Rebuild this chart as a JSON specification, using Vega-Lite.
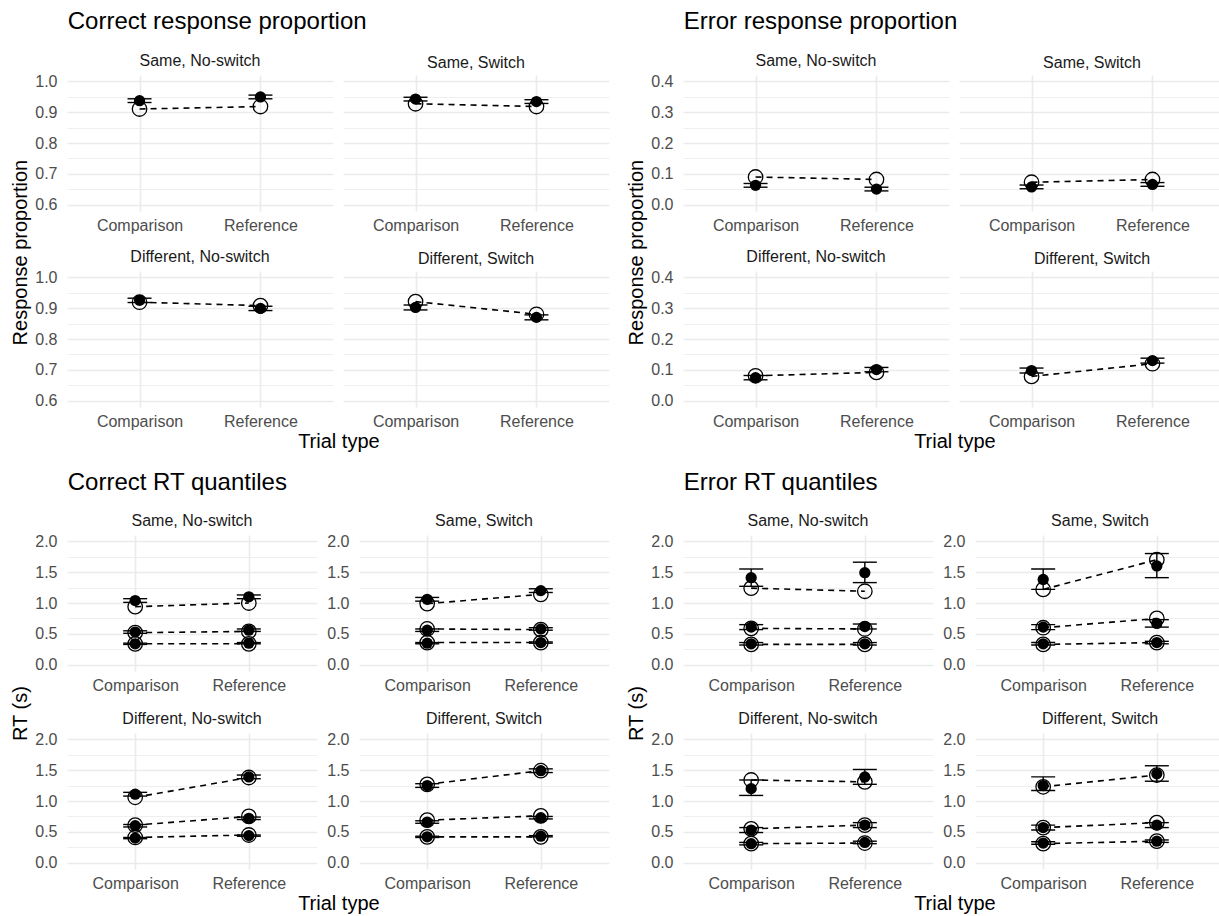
{
"$schema":"https://vega.github.io/schema/vega-lite/v6.json",
"padding":{"left":10,"top":10,"right":0,"bottom":0},
"background":"white",
"config":{"font":"Liberation Sans","view":{"stroke":null},
"axis":{"domain":false,"ticks":false,"gridColor":"#EBEBEB","labelColor":"#4D4D4D","labelFontSize":16,"labelFont":"Liberation Sans"},
"title":{"fontWeight":"normal","color":"black","font":"Liberation Sans"}},
"datasets":{"d":[
{"g":"cp","p":"Same, No-switch","t":"Comparison","q":"p","obs":0.937,"lo":0.931,"hi":0.943,"pred":0.910},
{"g":"cp","p":"Same, No-switch","t":"Reference","q":"p","obs":0.949,"lo":0.943,"hi":0.955,"pred":0.918},
{"g":"cp","p":"Same, Switch","t":"Comparison","q":"p","obs":0.942,"lo":0.936,"hi":0.948,"pred":0.927},
{"g":"cp","p":"Same, Switch","t":"Reference","q":"p","obs":0.934,"lo":0.928,"hi":0.940,"pred":0.918},
{"g":"cp","p":"Different, No-switch","t":"Comparison","q":"p","obs":0.925,"lo":0.918,"hi":0.932,"pred":0.919},
{"g":"cp","p":"Different, No-switch","t":"Reference","q":"p","obs":0.899,"lo":0.892,"hi":0.906,"pred":0.908},
{"g":"cp","p":"Different, Switch","t":"Comparison","q":"p","obs":0.902,"lo":0.894,"hi":0.910,"pred":0.921},
{"g":"cp","p":"Different, Switch","t":"Reference","q":"p","obs":0.870,"lo":0.862,"hi":0.878,"pred":0.880},
{"g":"ep","p":"Same, No-switch","t":"Comparison","q":"p","obs":0.063,"lo":0.057,"hi":0.069,"pred":0.090},
{"g":"ep","p":"Same, No-switch","t":"Reference","q":"p","obs":0.051,"lo":0.045,"hi":0.057,"pred":0.082},
{"g":"ep","p":"Same, Switch","t":"Comparison","q":"p","obs":0.058,"lo":0.052,"hi":0.064,"pred":0.073},
{"g":"ep","p":"Same, Switch","t":"Reference","q":"p","obs":0.066,"lo":0.060,"hi":0.072,"pred":0.082},
{"g":"ep","p":"Different, No-switch","t":"Comparison","q":"p","obs":0.075,"lo":0.068,"hi":0.082,"pred":0.081},
{"g":"ep","p":"Different, No-switch","t":"Reference","q":"p","obs":0.101,"lo":0.094,"hi":0.108,"pred":0.092},
{"g":"ep","p":"Different, Switch","t":"Comparison","q":"p","obs":0.098,"lo":0.090,"hi":0.106,"pred":0.079},
{"g":"ep","p":"Different, Switch","t":"Reference","q":"p","obs":0.130,"lo":0.122,"hi":0.138,"pred":0.120},
{"g":"crt","p":"Same, No-switch","t":"Comparison","q":"q1","obs":0.34,"lo":0.33,"hi":0.35,"pred":0.34},
{"g":"crt","p":"Same, No-switch","t":"Comparison","q":"q5","obs":0.53,"lo":0.51,"hi":0.55,"pred":0.52},
{"g":"crt","p":"Same, No-switch","t":"Comparison","q":"q9","obs":1.04,"lo":1.01,"hi":1.07,"pred":0.94},
{"g":"crt","p":"Same, No-switch","t":"Reference","q":"q1","obs":0.35,"lo":0.34,"hi":0.36,"pred":0.34},
{"g":"crt","p":"Same, No-switch","t":"Reference","q":"q5","obs":0.56,"lo":0.54,"hi":0.58,"pred":0.54},
{"g":"crt","p":"Same, No-switch","t":"Reference","q":"q9","obs":1.10,"lo":1.07,"hi":1.13,"pred":1.00},
{"g":"crt","p":"Same, Switch","t":"Comparison","q":"q1","obs":0.35,"lo":0.34,"hi":0.36,"pred":0.36},
{"g":"crt","p":"Same, Switch","t":"Comparison","q":"q5","obs":0.56,"lo":0.54,"hi":0.58,"pred":0.58},
{"g":"crt","p":"Same, Switch","t":"Comparison","q":"q9","obs":1.06,"lo":1.03,"hi":1.09,"pred":0.99},
{"g":"crt","p":"Same, Switch","t":"Reference","q":"q1","obs":0.36,"lo":0.35,"hi":0.37,"pred":0.36},
{"g":"crt","p":"Same, Switch","t":"Reference","q":"q5","obs":0.58,"lo":0.56,"hi":0.60,"pred":0.57},
{"g":"crt","p":"Same, Switch","t":"Reference","q":"q9","obs":1.20,"lo":1.17,"hi":1.23,"pred":1.14},
{"g":"crt","p":"Different, No-switch","t":"Comparison","q":"q1","obs":0.40,"lo":0.39,"hi":0.41,"pred":0.41},
{"g":"crt","p":"Different, No-switch","t":"Comparison","q":"q5","obs":0.60,"lo":0.58,"hi":0.62,"pred":0.61},
{"g":"crt","p":"Different, No-switch","t":"Comparison","q":"q9","obs":1.11,"lo":1.08,"hi":1.14,"pred":1.06},
{"g":"crt","p":"Different, No-switch","t":"Reference","q":"q1","obs":0.44,"lo":0.43,"hi":0.45,"pred":0.45},
{"g":"crt","p":"Different, No-switch","t":"Reference","q":"q5","obs":0.72,"lo":0.70,"hi":0.74,"pred":0.75},
{"g":"crt","p":"Different, No-switch","t":"Reference","q":"q9","obs":1.39,"lo":1.36,"hi":1.42,"pred":1.38},
{"g":"crt","p":"Different, Switch","t":"Comparison","q":"q1","obs":0.42,"lo":0.41,"hi":0.43,"pred":0.42},
{"g":"crt","p":"Different, Switch","t":"Comparison","q":"q5","obs":0.66,"lo":0.64,"hi":0.68,"pred":0.69},
{"g":"crt","p":"Different, Switch","t":"Comparison","q":"q9","obs":1.25,"lo":1.22,"hi":1.28,"pred":1.27},
{"g":"crt","p":"Different, Switch","t":"Reference","q":"q1","obs":0.43,"lo":0.42,"hi":0.44,"pred":0.42},
{"g":"crt","p":"Different, Switch","t":"Reference","q":"q5","obs":0.73,"lo":0.71,"hi":0.75,"pred":0.76},
{"g":"crt","p":"Different, Switch","t":"Reference","q":"q9","obs":1.49,"lo":1.46,"hi":1.52,"pred":1.49},
{"g":"ert","p":"Same, No-switch","t":"Comparison","q":"q1","obs":0.34,"lo":0.32,"hi":0.36,"pred":0.33},
{"g":"ert","p":"Same, No-switch","t":"Comparison","q":"q5","obs":0.61,"lo":0.57,"hi":0.65,"pred":0.59},
{"g":"ert","p":"Same, No-switch","t":"Comparison","q":"q9","obs":1.41,"lo":1.27,"hi":1.55,"pred":1.24},
{"g":"ert","p":"Same, No-switch","t":"Reference","q":"q1","obs":0.34,"lo":0.32,"hi":0.36,"pred":0.33},
{"g":"ert","p":"Same, No-switch","t":"Reference","q":"q5","obs":0.62,"lo":0.58,"hi":0.66,"pred":0.58},
{"g":"ert","p":"Same, No-switch","t":"Reference","q":"q9","obs":1.49,"lo":1.33,"hi":1.66,"pred":1.19},
{"g":"ert","p":"Same, Switch","t":"Comparison","q":"q1","obs":0.34,"lo":0.32,"hi":0.36,"pred":0.33},
{"g":"ert","p":"Same, Switch","t":"Comparison","q":"q5","obs":0.61,"lo":0.57,"hi":0.65,"pred":0.60},
{"g":"ert","p":"Same, Switch","t":"Comparison","q":"q9","obs":1.38,"lo":1.22,"hi":1.55,"pred":1.22},
{"g":"ert","p":"Same, Switch","t":"Reference","q":"q1","obs":0.36,"lo":0.34,"hi":0.38,"pred":0.36},
{"g":"ert","p":"Same, Switch","t":"Reference","q":"q5","obs":0.67,"lo":0.61,"hi":0.73,"pred":0.75},
{"g":"ert","p":"Same, Switch","t":"Reference","q":"q9","obs":1.60,"lo":1.41,"hi":1.80,"pred":1.70},
{"g":"ert","p":"Different, No-switch","t":"Comparison","q":"q1","obs":0.31,"lo":0.29,"hi":0.33,"pred":0.31},
{"g":"ert","p":"Different, No-switch","t":"Comparison","q":"q5","obs":0.53,"lo":0.49,"hi":0.57,"pred":0.55},
{"g":"ert","p":"Different, No-switch","t":"Comparison","q":"q9","obs":1.20,"lo":1.09,"hi":1.34,"pred":1.34},
{"g":"ert","p":"Different, No-switch","t":"Reference","q":"q1","obs":0.33,"lo":0.31,"hi":0.35,"pred":0.32},
{"g":"ert","p":"Different, No-switch","t":"Reference","q":"q5","obs":0.61,"lo":0.57,"hi":0.65,"pred":0.61},
{"g":"ert","p":"Different, No-switch","t":"Reference","q":"q9","obs":1.39,"lo":1.27,"hi":1.51,"pred":1.31},
{"g":"ert","p":"Different, Switch","t":"Comparison","q":"q1","obs":0.32,"lo":0.30,"hi":0.34,"pred":0.31},
{"g":"ert","p":"Different, Switch","t":"Comparison","q":"q5","obs":0.57,"lo":0.53,"hi":0.61,"pred":0.57},
{"g":"ert","p":"Different, Switch","t":"Comparison","q":"q9","obs":1.25,"lo":1.17,"hi":1.39,"pred":1.23},
{"g":"ert","p":"Different, Switch","t":"Reference","q":"q1","obs":0.35,"lo":0.33,"hi":0.37,"pred":0.35},
{"g":"ert","p":"Different, Switch","t":"Reference","q":"q5","obs":0.61,"lo":0.57,"hi":0.65,"pred":0.65},
{"g":"ert","p":"Different, Switch","t":"Reference","q":"q9","obs":1.44,"lo":1.32,"hi":1.57,"pred":1.42}
]},
"data":{"name":"d"},
"spacing":19,
"vconcat":[
{"spacing":17,"hconcat":[
{"title":{"text":"Correct response proportion","anchor":"start","fontSize":24,"offset":19,"dx":57},
"vconcat":[{"title":{"text":"Response proportion","orient":"left","anchor":"middle","fontSize":20,"offset":4},"spacing":16,
"vconcat":[
{"spacing":10,"hconcat":[
{"width":266,"height":136,"title":{"text":"Same, No-switch","fontSize":16,"color":"#1A1A1A","offset":4,"frame":"group"},"transform":[{"filter":"datum.g==='cp' && datum.p==='Same, No-switch'"}],"encoding":{"x":{"field":"t","type":"nominal","scale":{"type":"point","padding":0.6},"axis":{"title":null,"grid":true,"labelAngle":0,"labelPadding":6,"gridWidth":1.6}}},"layer":[
{"mark":{"type":"rule","color":"black","strokeWidth":1.4},"encoding":{"y":{"field":"lo","type":"quantitative","scale":{"domain":[0.58,1.02],"nice":false,"zero":false},"axis":{"title":null,"tickCount":20,"labelOverlap":false,"values":[0.6,0.65,0.7,0.75,0.8,0.85,0.9,0.95,1],"labelExpr":"abs(datum.value*10-round(datum.value*10))<0.01 ? format(datum.value,'.1f') : ''","gridWidth":{"condition":{"test":"abs(datum.value*10-round(datum.value*10))<0.01","value":1.6},"value":0.8},"labelPadding":10}},"y2":{"field":"hi"}}},
{"mark":{"type":"tick","color":"black","size":24,"thickness":1.4,"opacity":1},"encoding":{"y":{"field":"lo","type":"quantitative","axis":{"title":null}}}},
{"mark":{"type":"tick","color":"black","size":24,"thickness":1.4,"opacity":1},"encoding":{"y":{"field":"hi","type":"quantitative","axis":{"title":null}}}},
{"mark":{"type":"line","color":"black","strokeWidth":1.6,"strokeDash":[6,5]},"encoding":{"y":{"field":"pred","type":"quantitative","axis":{"title":null}},"detail":{"field":"q"}}},
{"mark":{"type":"point","shape":"circle","filled":false,"color":"black","size":210,"strokeWidth":1.3,"opacity":1},"encoding":{"y":{"field":"pred","type":"quantitative","axis":{"title":null}}}},
{"mark":{"type":"point","shape":"circle","filled":true,"color":"black","size":127,"opacity":1},"encoding":{"y":{"field":"obs","type":"quantitative","axis":{"title":null}}}}]},
{"width":266,"height":136,"title":{"text":"Same, Switch","fontSize":16,"color":"#1A1A1A","offset":4,"frame":"group"},"transform":[{"filter":"datum.g==='cp' && datum.p==='Same, Switch'"}],"encoding":{"x":{"field":"t","type":"nominal","scale":{"type":"point","padding":0.6},"axis":{"title":null,"grid":true,"labelAngle":0,"labelPadding":6,"gridWidth":1.6}}},"layer":[
{"mark":{"type":"rule","color":"black","strokeWidth":1.4},"encoding":{"y":{"field":"lo","type":"quantitative","scale":{"domain":[0.58,1.02],"nice":false,"zero":false},"axis":{"title":null,"labels":false,"tickCount":20,"labelOverlap":false,"values":[0.6,0.65,0.7,0.75,0.8,0.85,0.9,0.95,1],"gridWidth":{"condition":{"test":"abs(datum.value*10-round(datum.value*10))<0.01","value":1.6},"value":0.8}}},"y2":{"field":"hi"}}},
{"mark":{"type":"tick","color":"black","size":24,"thickness":1.4,"opacity":1},"encoding":{"y":{"field":"lo","type":"quantitative","axis":{"title":null}}}},
{"mark":{"type":"tick","color":"black","size":24,"thickness":1.4,"opacity":1},"encoding":{"y":{"field":"hi","type":"quantitative","axis":{"title":null}}}},
{"mark":{"type":"line","color":"black","strokeWidth":1.6,"strokeDash":[6,5]},"encoding":{"y":{"field":"pred","type":"quantitative","axis":{"title":null}},"detail":{"field":"q"}}},
{"mark":{"type":"point","shape":"circle","filled":false,"color":"black","size":210,"strokeWidth":1.3,"opacity":1},"encoding":{"y":{"field":"pred","type":"quantitative","axis":{"title":null}}}},
{"mark":{"type":"point","shape":"circle","filled":true,"color":"black","size":127,"opacity":1},"encoding":{"y":{"field":"obs","type":"quantitative","axis":{"title":null}}}}]}
]},
{"title":{"text":"Trial type","orient":"bottom","anchor":"middle","fontSize":20,"offset":3,"dx":17},"spacing":10,"hconcat":[
{"width":266,"height":136,"title":{"text":"Different, No-switch","fontSize":16,"color":"#1A1A1A","offset":4,"frame":"group"},"transform":[{"filter":"datum.g==='cp' && datum.p==='Different, No-switch'"}],"encoding":{"x":{"field":"t","type":"nominal","scale":{"type":"point","padding":0.6},"axis":{"title":null,"grid":true,"labelAngle":0,"labelPadding":6,"gridWidth":1.6}}},"layer":[
{"mark":{"type":"rule","color":"black","strokeWidth":1.4},"encoding":{"y":{"field":"lo","type":"quantitative","scale":{"domain":[0.58,1.02],"nice":false,"zero":false},"axis":{"title":null,"tickCount":20,"labelOverlap":false,"values":[0.6,0.65,0.7,0.75,0.8,0.85,0.9,0.95,1],"labelExpr":"abs(datum.value*10-round(datum.value*10))<0.01 ? format(datum.value,'.1f') : ''","gridWidth":{"condition":{"test":"abs(datum.value*10-round(datum.value*10))<0.01","value":1.6},"value":0.8},"labelPadding":10}},"y2":{"field":"hi"}}},
{"mark":{"type":"tick","color":"black","size":24,"thickness":1.4,"opacity":1},"encoding":{"y":{"field":"lo","type":"quantitative","axis":{"title":null}}}},
{"mark":{"type":"tick","color":"black","size":24,"thickness":1.4,"opacity":1},"encoding":{"y":{"field":"hi","type":"quantitative","axis":{"title":null}}}},
{"mark":{"type":"line","color":"black","strokeWidth":1.6,"strokeDash":[6,5]},"encoding":{"y":{"field":"pred","type":"quantitative","axis":{"title":null}},"detail":{"field":"q"}}},
{"mark":{"type":"point","shape":"circle","filled":false,"color":"black","size":210,"strokeWidth":1.3,"opacity":1},"encoding":{"y":{"field":"pred","type":"quantitative","axis":{"title":null}}}},
{"mark":{"type":"point","shape":"circle","filled":true,"color":"black","size":127,"opacity":1},"encoding":{"y":{"field":"obs","type":"quantitative","axis":{"title":null}}}}]},
{"width":266,"height":136,"title":{"text":"Different, Switch","fontSize":16,"color":"#1A1A1A","offset":4,"frame":"group"},"transform":[{"filter":"datum.g==='cp' && datum.p==='Different, Switch'"}],"encoding":{"x":{"field":"t","type":"nominal","scale":{"type":"point","padding":0.6},"axis":{"title":null,"grid":true,"labelAngle":0,"labelPadding":6,"gridWidth":1.6}}},"layer":[
{"mark":{"type":"rule","color":"black","strokeWidth":1.4},"encoding":{"y":{"field":"lo","type":"quantitative","scale":{"domain":[0.58,1.02],"nice":false,"zero":false},"axis":{"title":null,"labels":false,"tickCount":20,"labelOverlap":false,"values":[0.6,0.65,0.7,0.75,0.8,0.85,0.9,0.95,1],"gridWidth":{"condition":{"test":"abs(datum.value*10-round(datum.value*10))<0.01","value":1.6},"value":0.8}}},"y2":{"field":"hi"}}},
{"mark":{"type":"tick","color":"black","size":24,"thickness":1.4,"opacity":1},"encoding":{"y":{"field":"lo","type":"quantitative","axis":{"title":null}}}},
{"mark":{"type":"tick","color":"black","size":24,"thickness":1.4,"opacity":1},"encoding":{"y":{"field":"hi","type":"quantitative","axis":{"title":null}}}},
{"mark":{"type":"line","color":"black","strokeWidth":1.6,"strokeDash":[6,5]},"encoding":{"y":{"field":"pred","type":"quantitative","axis":{"title":null}},"detail":{"field":"q"}}},
{"mark":{"type":"point","shape":"circle","filled":false,"color":"black","size":210,"strokeWidth":1.3,"opacity":1},"encoding":{"y":{"field":"pred","type":"quantitative","axis":{"title":null}}}},
{"mark":{"type":"point","shape":"circle","filled":true,"color":"black","size":127,"opacity":1},"encoding":{"y":{"field":"obs","type":"quantitative","axis":{"title":null}}}}]}
]}
]}]},
{"title":{"text":"Error response proportion","anchor":"start","fontSize":24,"offset":19,"dx":57},
"vconcat":[{"title":{"text":"Response proportion","orient":"left","anchor":"middle","fontSize":20,"offset":4},"spacing":16,
"vconcat":[
{"spacing":10,"hconcat":[
{"width":266,"height":136,"title":{"text":"Same, No-switch","fontSize":16,"color":"#1A1A1A","offset":4,"frame":"group"},"transform":[{"filter":"datum.g==='ep' && datum.p==='Same, No-switch'"}],"encoding":{"x":{"field":"t","type":"nominal","scale":{"type":"point","padding":0.6},"axis":{"title":null,"grid":true,"labelAngle":0,"labelPadding":6,"gridWidth":1.6}}},"layer":[
{"mark":{"type":"rule","color":"black","strokeWidth":1.4},"encoding":{"y":{"field":"lo","type":"quantitative","scale":{"domain":[-0.02,0.42],"nice":false,"zero":false},"axis":{"title":null,"tickCount":20,"labelOverlap":false,"values":[0,0.05,0.1,0.15,0.2,0.25,0.3,0.35,0.4],"labelExpr":"abs(datum.value*10-round(datum.value*10))<0.01 ? format(datum.value,'.1f') : ''","gridWidth":{"condition":{"test":"abs(datum.value*10-round(datum.value*10))<0.01","value":1.6},"value":0.8},"labelPadding":10}},"y2":{"field":"hi"}}},
{"mark":{"type":"tick","color":"black","size":24,"thickness":1.4,"opacity":1},"encoding":{"y":{"field":"lo","type":"quantitative","axis":{"title":null}}}},
{"mark":{"type":"tick","color":"black","size":24,"thickness":1.4,"opacity":1},"encoding":{"y":{"field":"hi","type":"quantitative","axis":{"title":null}}}},
{"mark":{"type":"line","color":"black","strokeWidth":1.6,"strokeDash":[6,5]},"encoding":{"y":{"field":"pred","type":"quantitative","axis":{"title":null}},"detail":{"field":"q"}}},
{"mark":{"type":"point","shape":"circle","filled":false,"color":"black","size":210,"strokeWidth":1.3,"opacity":1},"encoding":{"y":{"field":"pred","type":"quantitative","axis":{"title":null}}}},
{"mark":{"type":"point","shape":"circle","filled":true,"color":"black","size":127,"opacity":1},"encoding":{"y":{"field":"obs","type":"quantitative","axis":{"title":null}}}}]},
{"width":266,"height":136,"title":{"text":"Same, Switch","fontSize":16,"color":"#1A1A1A","offset":4,"frame":"group"},"transform":[{"filter":"datum.g==='ep' && datum.p==='Same, Switch'"}],"encoding":{"x":{"field":"t","type":"nominal","scale":{"type":"point","padding":0.6},"axis":{"title":null,"grid":true,"labelAngle":0,"labelPadding":6,"gridWidth":1.6}}},"layer":[
{"mark":{"type":"rule","color":"black","strokeWidth":1.4},"encoding":{"y":{"field":"lo","type":"quantitative","scale":{"domain":[-0.02,0.42],"nice":false,"zero":false},"axis":{"title":null,"labels":false,"tickCount":20,"labelOverlap":false,"values":[0,0.05,0.1,0.15,0.2,0.25,0.3,0.35,0.4],"gridWidth":{"condition":{"test":"abs(datum.value*10-round(datum.value*10))<0.01","value":1.6},"value":0.8}}},"y2":{"field":"hi"}}},
{"mark":{"type":"tick","color":"black","size":24,"thickness":1.4,"opacity":1},"encoding":{"y":{"field":"lo","type":"quantitative","axis":{"title":null}}}},
{"mark":{"type":"tick","color":"black","size":24,"thickness":1.4,"opacity":1},"encoding":{"y":{"field":"hi","type":"quantitative","axis":{"title":null}}}},
{"mark":{"type":"line","color":"black","strokeWidth":1.6,"strokeDash":[6,5]},"encoding":{"y":{"field":"pred","type":"quantitative","axis":{"title":null}},"detail":{"field":"q"}}},
{"mark":{"type":"point","shape":"circle","filled":false,"color":"black","size":210,"strokeWidth":1.3,"opacity":1},"encoding":{"y":{"field":"pred","type":"quantitative","axis":{"title":null}}}},
{"mark":{"type":"point","shape":"circle","filled":true,"color":"black","size":127,"opacity":1},"encoding":{"y":{"field":"obs","type":"quantitative","axis":{"title":null}}}}]}
]},
{"title":{"text":"Trial type","orient":"bottom","anchor":"middle","fontSize":20,"offset":3,"dx":17},"spacing":10,"hconcat":[
{"width":266,"height":136,"title":{"text":"Different, No-switch","fontSize":16,"color":"#1A1A1A","offset":4,"frame":"group"},"transform":[{"filter":"datum.g==='ep' && datum.p==='Different, No-switch'"}],"encoding":{"x":{"field":"t","type":"nominal","scale":{"type":"point","padding":0.6},"axis":{"title":null,"grid":true,"labelAngle":0,"labelPadding":6,"gridWidth":1.6}}},"layer":[
{"mark":{"type":"rule","color":"black","strokeWidth":1.4},"encoding":{"y":{"field":"lo","type":"quantitative","scale":{"domain":[-0.02,0.42],"nice":false,"zero":false},"axis":{"title":null,"tickCount":20,"labelOverlap":false,"values":[0,0.05,0.1,0.15,0.2,0.25,0.3,0.35,0.4],"labelExpr":"abs(datum.value*10-round(datum.value*10))<0.01 ? format(datum.value,'.1f') : ''","gridWidth":{"condition":{"test":"abs(datum.value*10-round(datum.value*10))<0.01","value":1.6},"value":0.8},"labelPadding":10}},"y2":{"field":"hi"}}},
{"mark":{"type":"tick","color":"black","size":24,"thickness":1.4,"opacity":1},"encoding":{"y":{"field":"lo","type":"quantitative","axis":{"title":null}}}},
{"mark":{"type":"tick","color":"black","size":24,"thickness":1.4,"opacity":1},"encoding":{"y":{"field":"hi","type":"quantitative","axis":{"title":null}}}},
{"mark":{"type":"line","color":"black","strokeWidth":1.6,"strokeDash":[6,5]},"encoding":{"y":{"field":"pred","type":"quantitative","axis":{"title":null}},"detail":{"field":"q"}}},
{"mark":{"type":"point","shape":"circle","filled":false,"color":"black","size":210,"strokeWidth":1.3,"opacity":1},"encoding":{"y":{"field":"pred","type":"quantitative","axis":{"title":null}}}},
{"mark":{"type":"point","shape":"circle","filled":true,"color":"black","size":127,"opacity":1},"encoding":{"y":{"field":"obs","type":"quantitative","axis":{"title":null}}}}]},
{"width":266,"height":136,"title":{"text":"Different, Switch","fontSize":16,"color":"#1A1A1A","offset":4,"frame":"group"},"transform":[{"filter":"datum.g==='ep' && datum.p==='Different, Switch'"}],"encoding":{"x":{"field":"t","type":"nominal","scale":{"type":"point","padding":0.6},"axis":{"title":null,"grid":true,"labelAngle":0,"labelPadding":6,"gridWidth":1.6}}},"layer":[
{"mark":{"type":"rule","color":"black","strokeWidth":1.4},"encoding":{"y":{"field":"lo","type":"quantitative","scale":{"domain":[-0.02,0.42],"nice":false,"zero":false},"axis":{"title":null,"labels":false,"tickCount":20,"labelOverlap":false,"values":[0,0.05,0.1,0.15,0.2,0.25,0.3,0.35,0.4],"gridWidth":{"condition":{"test":"abs(datum.value*10-round(datum.value*10))<0.01","value":1.6},"value":0.8}}},"y2":{"field":"hi"}}},
{"mark":{"type":"tick","color":"black","size":24,"thickness":1.4,"opacity":1},"encoding":{"y":{"field":"lo","type":"quantitative","axis":{"title":null}}}},
{"mark":{"type":"tick","color":"black","size":24,"thickness":1.4,"opacity":1},"encoding":{"y":{"field":"hi","type":"quantitative","axis":{"title":null}}}},
{"mark":{"type":"line","color":"black","strokeWidth":1.6,"strokeDash":[6,5]},"encoding":{"y":{"field":"pred","type":"quantitative","axis":{"title":null}},"detail":{"field":"q"}}},
{"mark":{"type":"point","shape":"circle","filled":false,"color":"black","size":210,"strokeWidth":1.3,"opacity":1},"encoding":{"y":{"field":"pred","type":"quantitative","axis":{"title":null}}}},
{"mark":{"type":"point","shape":"circle","filled":true,"color":"black","size":127,"opacity":1},"encoding":{"y":{"field":"obs","type":"quantitative","axis":{"title":null}}}}]}
]}
]}]}
]},
{"spacing":17,"hconcat":[
{"title":{"text":"Correct RT quantiles","anchor":"start","fontSize":24,"offset":18,"dx":57},
"vconcat":[{"title":{"text":"RT (s)","orient":"left","anchor":"middle","fontSize":20,"offset":4},"spacing":18,
"vconcat":[
{"spacing":9,"hconcat":[
{"width":250,"height":136,"title":{"text":"Same, No-switch","fontSize":16,"color":"#1A1A1A","offset":4,"frame":"group"},"transform":[{"filter":"datum.g==='crt' && datum.p==='Same, No-switch'"}],"encoding":{"x":{"field":"t","type":"nominal","scale":{"type":"point","padding":0.6},"axis":{"title":null,"grid":true,"labelAngle":0,"labelPadding":6,"gridWidth":1.6}}},"layer":[
{"mark":{"type":"rule","color":"black","strokeWidth":1.4},"encoding":{"y":{"field":"lo","type":"quantitative","scale":{"domain":[-0.1,2.1],"nice":false,"zero":false},"axis":{"title":null,"tickCount":20,"labelOverlap":false,"values":[0,0.25,0.5,0.75,1,1.25,1.5,1.75,2],"labelExpr":"abs(datum.value*2-round(datum.value*2))<0.01 ? format(datum.value,'.1f') : ''","gridWidth":{"condition":{"test":"abs(datum.value*2-round(datum.value*2))<0.01","value":1.6},"value":0.8},"labelPadding":10}},"y2":{"field":"hi"}}},
{"mark":{"type":"tick","color":"black","size":24,"thickness":1.4,"opacity":1},"encoding":{"y":{"field":"lo","type":"quantitative","axis":{"title":null}}}},
{"mark":{"type":"tick","color":"black","size":24,"thickness":1.4,"opacity":1},"encoding":{"y":{"field":"hi","type":"quantitative","axis":{"title":null}}}},
{"mark":{"type":"line","color":"black","strokeWidth":1.6,"strokeDash":[6,5]},"encoding":{"y":{"field":"pred","type":"quantitative","axis":{"title":null}},"detail":{"field":"q"}}},
{"mark":{"type":"point","shape":"circle","filled":false,"color":"black","size":210,"strokeWidth":1.3,"opacity":1},"encoding":{"y":{"field":"pred","type":"quantitative","axis":{"title":null}}}},
{"mark":{"type":"point","shape":"circle","filled":true,"color":"black","size":127,"opacity":1},"encoding":{"y":{"field":"obs","type":"quantitative","axis":{"title":null}}}}]},
{"width":250,"height":136,"title":{"text":"Same, Switch","fontSize":16,"color":"#1A1A1A","offset":4,"frame":"group"},"transform":[{"filter":"datum.g==='crt' && datum.p==='Same, Switch'"}],"encoding":{"x":{"field":"t","type":"nominal","scale":{"type":"point","padding":0.6},"axis":{"title":null,"grid":true,"labelAngle":0,"labelPadding":6,"gridWidth":1.6}}},"layer":[
{"mark":{"type":"rule","color":"black","strokeWidth":1.4},"encoding":{"y":{"field":"lo","type":"quantitative","scale":{"domain":[-0.1,2.1],"nice":false,"zero":false},"axis":{"title":null,"tickCount":20,"labelOverlap":false,"values":[0,0.25,0.5,0.75,1,1.25,1.5,1.75,2],"labelExpr":"abs(datum.value*2-round(datum.value*2))<0.01 ? format(datum.value,'.1f') : ''","gridWidth":{"condition":{"test":"abs(datum.value*2-round(datum.value*2))<0.01","value":1.6},"value":0.8},"labelPadding":10}},"y2":{"field":"hi"}}},
{"mark":{"type":"tick","color":"black","size":24,"thickness":1.4,"opacity":1},"encoding":{"y":{"field":"lo","type":"quantitative","axis":{"title":null}}}},
{"mark":{"type":"tick","color":"black","size":24,"thickness":1.4,"opacity":1},"encoding":{"y":{"field":"hi","type":"quantitative","axis":{"title":null}}}},
{"mark":{"type":"line","color":"black","strokeWidth":1.6,"strokeDash":[6,5]},"encoding":{"y":{"field":"pred","type":"quantitative","axis":{"title":null}},"detail":{"field":"q"}}},
{"mark":{"type":"point","shape":"circle","filled":false,"color":"black","size":210,"strokeWidth":1.3,"opacity":1},"encoding":{"y":{"field":"pred","type":"quantitative","axis":{"title":null}}}},
{"mark":{"type":"point","shape":"circle","filled":true,"color":"black","size":127,"opacity":1},"encoding":{"y":{"field":"obs","type":"quantitative","axis":{"title":null}}}}]}
]},
{"title":{"text":"Trial type","orient":"bottom","anchor":"middle","fontSize":20,"offset":3,"dx":17},"spacing":9,"hconcat":[
{"width":250,"height":136,"title":{"text":"Different, No-switch","fontSize":16,"color":"#1A1A1A","offset":4,"frame":"group"},"transform":[{"filter":"datum.g==='crt' && datum.p==='Different, No-switch'"}],"encoding":{"x":{"field":"t","type":"nominal","scale":{"type":"point","padding":0.6},"axis":{"title":null,"grid":true,"labelAngle":0,"labelPadding":6,"gridWidth":1.6}}},"layer":[
{"mark":{"type":"rule","color":"black","strokeWidth":1.4},"encoding":{"y":{"field":"lo","type":"quantitative","scale":{"domain":[-0.1,2.1],"nice":false,"zero":false},"axis":{"title":null,"tickCount":20,"labelOverlap":false,"values":[0,0.25,0.5,0.75,1,1.25,1.5,1.75,2],"labelExpr":"abs(datum.value*2-round(datum.value*2))<0.01 ? format(datum.value,'.1f') : ''","gridWidth":{"condition":{"test":"abs(datum.value*2-round(datum.value*2))<0.01","value":1.6},"value":0.8},"labelPadding":10}},"y2":{"field":"hi"}}},
{"mark":{"type":"tick","color":"black","size":24,"thickness":1.4,"opacity":1},"encoding":{"y":{"field":"lo","type":"quantitative","axis":{"title":null}}}},
{"mark":{"type":"tick","color":"black","size":24,"thickness":1.4,"opacity":1},"encoding":{"y":{"field":"hi","type":"quantitative","axis":{"title":null}}}},
{"mark":{"type":"line","color":"black","strokeWidth":1.6,"strokeDash":[6,5]},"encoding":{"y":{"field":"pred","type":"quantitative","axis":{"title":null}},"detail":{"field":"q"}}},
{"mark":{"type":"point","shape":"circle","filled":false,"color":"black","size":210,"strokeWidth":1.3,"opacity":1},"encoding":{"y":{"field":"pred","type":"quantitative","axis":{"title":null}}}},
{"mark":{"type":"point","shape":"circle","filled":true,"color":"black","size":127,"opacity":1},"encoding":{"y":{"field":"obs","type":"quantitative","axis":{"title":null}}}}]},
{"width":250,"height":136,"title":{"text":"Different, Switch","fontSize":16,"color":"#1A1A1A","offset":4,"frame":"group"},"transform":[{"filter":"datum.g==='crt' && datum.p==='Different, Switch'"}],"encoding":{"x":{"field":"t","type":"nominal","scale":{"type":"point","padding":0.6},"axis":{"title":null,"grid":true,"labelAngle":0,"labelPadding":6,"gridWidth":1.6}}},"layer":[
{"mark":{"type":"rule","color":"black","strokeWidth":1.4},"encoding":{"y":{"field":"lo","type":"quantitative","scale":{"domain":[-0.1,2.1],"nice":false,"zero":false},"axis":{"title":null,"tickCount":20,"labelOverlap":false,"values":[0,0.25,0.5,0.75,1,1.25,1.5,1.75,2],"labelExpr":"abs(datum.value*2-round(datum.value*2))<0.01 ? format(datum.value,'.1f') : ''","gridWidth":{"condition":{"test":"abs(datum.value*2-round(datum.value*2))<0.01","value":1.6},"value":0.8},"labelPadding":10}},"y2":{"field":"hi"}}},
{"mark":{"type":"tick","color":"black","size":24,"thickness":1.4,"opacity":1},"encoding":{"y":{"field":"lo","type":"quantitative","axis":{"title":null}}}},
{"mark":{"type":"tick","color":"black","size":24,"thickness":1.4,"opacity":1},"encoding":{"y":{"field":"hi","type":"quantitative","axis":{"title":null}}}},
{"mark":{"type":"line","color":"black","strokeWidth":1.6,"strokeDash":[6,5]},"encoding":{"y":{"field":"pred","type":"quantitative","axis":{"title":null}},"detail":{"field":"q"}}},
{"mark":{"type":"point","shape":"circle","filled":false,"color":"black","size":210,"strokeWidth":1.3,"opacity":1},"encoding":{"y":{"field":"pred","type":"quantitative","axis":{"title":null}}}},
{"mark":{"type":"point","shape":"circle","filled":true,"color":"black","size":127,"opacity":1},"encoding":{"y":{"field":"obs","type":"quantitative","axis":{"title":null}}}}]}
]}
]}]},
{"title":{"text":"Error RT quantiles","anchor":"start","fontSize":24,"offset":18,"dx":57},
"vconcat":[{"title":{"text":"RT (s)","orient":"left","anchor":"middle","fontSize":20,"offset":4},"spacing":18,
"vconcat":[
{"spacing":9,"hconcat":[
{"width":250,"height":136,"title":{"text":"Same, No-switch","fontSize":16,"color":"#1A1A1A","offset":4,"frame":"group"},"transform":[{"filter":"datum.g==='ert' && datum.p==='Same, No-switch'"}],"encoding":{"x":{"field":"t","type":"nominal","scale":{"type":"point","padding":0.6},"axis":{"title":null,"grid":true,"labelAngle":0,"labelPadding":6,"gridWidth":1.6}}},"layer":[
{"mark":{"type":"rule","color":"black","strokeWidth":1.4},"encoding":{"y":{"field":"lo","type":"quantitative","scale":{"domain":[-0.1,2.1],"nice":false,"zero":false},"axis":{"title":null,"tickCount":20,"labelOverlap":false,"values":[0,0.25,0.5,0.75,1,1.25,1.5,1.75,2],"labelExpr":"abs(datum.value*2-round(datum.value*2))<0.01 ? format(datum.value,'.1f') : ''","gridWidth":{"condition":{"test":"abs(datum.value*2-round(datum.value*2))<0.01","value":1.6},"value":0.8},"labelPadding":10}},"y2":{"field":"hi"}}},
{"mark":{"type":"tick","color":"black","size":24,"thickness":1.4,"opacity":1},"encoding":{"y":{"field":"lo","type":"quantitative","axis":{"title":null}}}},
{"mark":{"type":"tick","color":"black","size":24,"thickness":1.4,"opacity":1},"encoding":{"y":{"field":"hi","type":"quantitative","axis":{"title":null}}}},
{"mark":{"type":"line","color":"black","strokeWidth":1.6,"strokeDash":[6,5]},"encoding":{"y":{"field":"pred","type":"quantitative","axis":{"title":null}},"detail":{"field":"q"}}},
{"mark":{"type":"point","shape":"circle","filled":false,"color":"black","size":210,"strokeWidth":1.3,"opacity":1},"encoding":{"y":{"field":"pred","type":"quantitative","axis":{"title":null}}}},
{"mark":{"type":"point","shape":"circle","filled":true,"color":"black","size":127,"opacity":1},"encoding":{"y":{"field":"obs","type":"quantitative","axis":{"title":null}}}}]},
{"width":250,"height":136,"title":{"text":"Same, Switch","fontSize":16,"color":"#1A1A1A","offset":4,"frame":"group"},"transform":[{"filter":"datum.g==='ert' && datum.p==='Same, Switch'"}],"encoding":{"x":{"field":"t","type":"nominal","scale":{"type":"point","padding":0.6},"axis":{"title":null,"grid":true,"labelAngle":0,"labelPadding":6,"gridWidth":1.6}}},"layer":[
{"mark":{"type":"rule","color":"black","strokeWidth":1.4},"encoding":{"y":{"field":"lo","type":"quantitative","scale":{"domain":[-0.1,2.1],"nice":false,"zero":false},"axis":{"title":null,"tickCount":20,"labelOverlap":false,"values":[0,0.25,0.5,0.75,1,1.25,1.5,1.75,2],"labelExpr":"abs(datum.value*2-round(datum.value*2))<0.01 ? format(datum.value,'.1f') : ''","gridWidth":{"condition":{"test":"abs(datum.value*2-round(datum.value*2))<0.01","value":1.6},"value":0.8},"labelPadding":10}},"y2":{"field":"hi"}}},
{"mark":{"type":"tick","color":"black","size":24,"thickness":1.4,"opacity":1},"encoding":{"y":{"field":"lo","type":"quantitative","axis":{"title":null}}}},
{"mark":{"type":"tick","color":"black","size":24,"thickness":1.4,"opacity":1},"encoding":{"y":{"field":"hi","type":"quantitative","axis":{"title":null}}}},
{"mark":{"type":"line","color":"black","strokeWidth":1.6,"strokeDash":[6,5]},"encoding":{"y":{"field":"pred","type":"quantitative","axis":{"title":null}},"detail":{"field":"q"}}},
{"mark":{"type":"point","shape":"circle","filled":false,"color":"black","size":210,"strokeWidth":1.3,"opacity":1},"encoding":{"y":{"field":"pred","type":"quantitative","axis":{"title":null}}}},
{"mark":{"type":"point","shape":"circle","filled":true,"color":"black","size":127,"opacity":1},"encoding":{"y":{"field":"obs","type":"quantitative","axis":{"title":null}}}}]}
]},
{"title":{"text":"Trial type","orient":"bottom","anchor":"middle","fontSize":20,"offset":3,"dx":17},"spacing":9,"hconcat":[
{"width":250,"height":136,"title":{"text":"Different, No-switch","fontSize":16,"color":"#1A1A1A","offset":4,"frame":"group"},"transform":[{"filter":"datum.g==='ert' && datum.p==='Different, No-switch'"}],"encoding":{"x":{"field":"t","type":"nominal","scale":{"type":"point","padding":0.6},"axis":{"title":null,"grid":true,"labelAngle":0,"labelPadding":6,"gridWidth":1.6}}},"layer":[
{"mark":{"type":"rule","color":"black","strokeWidth":1.4},"encoding":{"y":{"field":"lo","type":"quantitative","scale":{"domain":[-0.1,2.1],"nice":false,"zero":false},"axis":{"title":null,"tickCount":20,"labelOverlap":false,"values":[0,0.25,0.5,0.75,1,1.25,1.5,1.75,2],"labelExpr":"abs(datum.value*2-round(datum.value*2))<0.01 ? format(datum.value,'.1f') : ''","gridWidth":{"condition":{"test":"abs(datum.value*2-round(datum.value*2))<0.01","value":1.6},"value":0.8},"labelPadding":10}},"y2":{"field":"hi"}}},
{"mark":{"type":"tick","color":"black","size":24,"thickness":1.4,"opacity":1},"encoding":{"y":{"field":"lo","type":"quantitative","axis":{"title":null}}}},
{"mark":{"type":"tick","color":"black","size":24,"thickness":1.4,"opacity":1},"encoding":{"y":{"field":"hi","type":"quantitative","axis":{"title":null}}}},
{"mark":{"type":"line","color":"black","strokeWidth":1.6,"strokeDash":[6,5]},"encoding":{"y":{"field":"pred","type":"quantitative","axis":{"title":null}},"detail":{"field":"q"}}},
{"mark":{"type":"point","shape":"circle","filled":false,"color":"black","size":210,"strokeWidth":1.3,"opacity":1},"encoding":{"y":{"field":"pred","type":"quantitative","axis":{"title":null}}}},
{"mark":{"type":"point","shape":"circle","filled":true,"color":"black","size":127,"opacity":1},"encoding":{"y":{"field":"obs","type":"quantitative","axis":{"title":null}}}}]},
{"width":250,"height":136,"title":{"text":"Different, Switch","fontSize":16,"color":"#1A1A1A","offset":4,"frame":"group"},"transform":[{"filter":"datum.g==='ert' && datum.p==='Different, Switch'"}],"encoding":{"x":{"field":"t","type":"nominal","scale":{"type":"point","padding":0.6},"axis":{"title":null,"grid":true,"labelAngle":0,"labelPadding":6,"gridWidth":1.6}}},"layer":[
{"mark":{"type":"rule","color":"black","strokeWidth":1.4},"encoding":{"y":{"field":"lo","type":"quantitative","scale":{"domain":[-0.1,2.1],"nice":false,"zero":false},"axis":{"title":null,"tickCount":20,"labelOverlap":false,"values":[0,0.25,0.5,0.75,1,1.25,1.5,1.75,2],"labelExpr":"abs(datum.value*2-round(datum.value*2))<0.01 ? format(datum.value,'.1f') : ''","gridWidth":{"condition":{"test":"abs(datum.value*2-round(datum.value*2))<0.01","value":1.6},"value":0.8},"labelPadding":10}},"y2":{"field":"hi"}}},
{"mark":{"type":"tick","color":"black","size":24,"thickness":1.4,"opacity":1},"encoding":{"y":{"field":"lo","type":"quantitative","axis":{"title":null}}}},
{"mark":{"type":"tick","color":"black","size":24,"thickness":1.4,"opacity":1},"encoding":{"y":{"field":"hi","type":"quantitative","axis":{"title":null}}}},
{"mark":{"type":"line","color":"black","strokeWidth":1.6,"strokeDash":[6,5]},"encoding":{"y":{"field":"pred","type":"quantitative","axis":{"title":null}},"detail":{"field":"q"}}},
{"mark":{"type":"point","shape":"circle","filled":false,"color":"black","size":210,"strokeWidth":1.3,"opacity":1},"encoding":{"y":{"field":"pred","type":"quantitative","axis":{"title":null}}}},
{"mark":{"type":"point","shape":"circle","filled":true,"color":"black","size":127,"opacity":1},"encoding":{"y":{"field":"obs","type":"quantitative","axis":{"title":null}}}}]}
]}
]}]}
]}
]
}
